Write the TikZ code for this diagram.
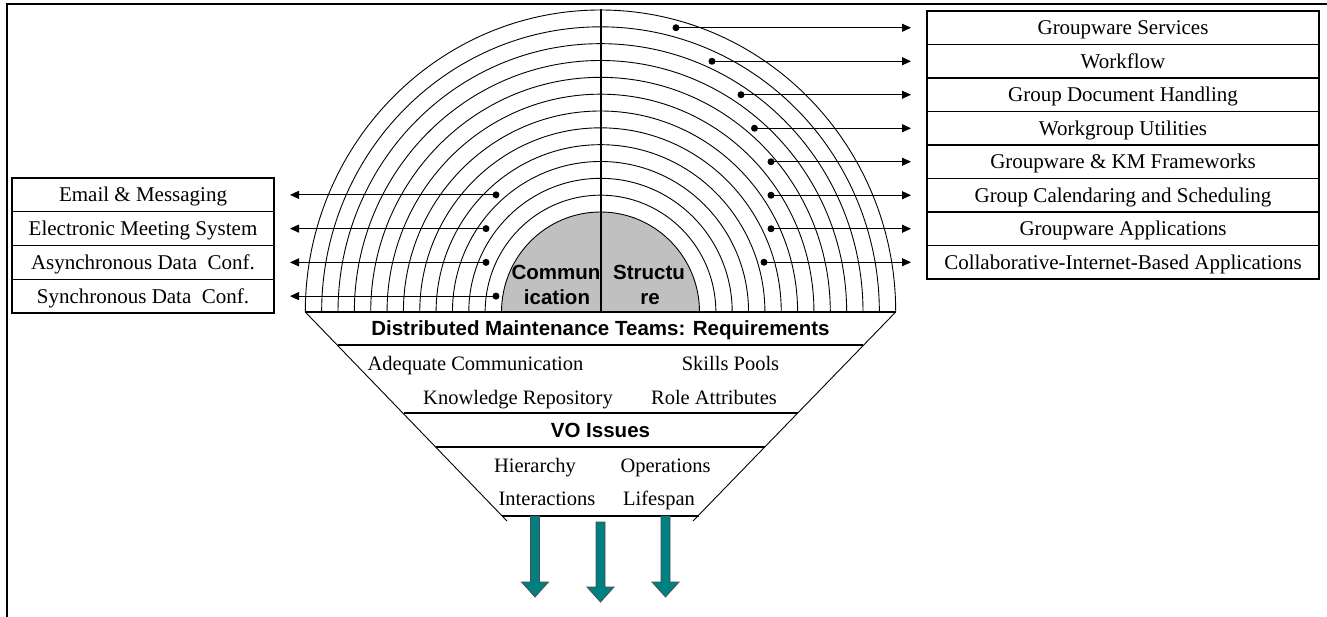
\documentclass[tikz,border=0pt]{standalone}
\usepackage{fontspec}
\setmainfont{Liberation Serif}
\newfontfamily\headfamily{Liberation Sans}
\usetikzlibrary{arrows.meta}
\definecolor{coregray}{RGB}{192,192,192}
\definecolor{stemteal}{RGB}{0,128,128}
\newcommand{\rowfont}{\fontsize{21}{24}\selectfont}
\newcommand{\bandfont}{\fontsize{20.5}{24}\selectfont}
\newcommand{\headfont}{\headfamily\bfseries\fontsize{20.5}{24}\selectfont}

\begin{document}
\begin{tikzpicture}[x=1pt,y=1pt,
  every node/.style={inner sep=0pt,outer sep=0pt},
  rowbox/.style={draw,line width=1.1pt,minimum height=33.5pt,text height=13.9pt,text depth=0pt,font=\rowfont},
  rightrow/.style={rowbox,minimum width=392pt},
  leftrow/.style={rowbox,minimum width=262pt,minimum height=33.75pt},
  bandtxt/.style={text height=13.6pt,text depth=0pt,font=\bandfont},
  headtxt/.style={text height=14.7pt,text depth=0pt,font=\headfont},
  ring/.style={line width=.9pt},
  heavy/.style={line width=2.5pt},
  feed/.style={line width=.9pt,-{Triangle[length=9pt,width=8pt]}},
  stem/.style={fill=stemteal,draw=black!70,line width=.8pt}]
\useasboundingbox (0,0) rectangle (1327,-617);
\draw[heavy] (7,-617)--(7,-4)--(1327,-4);
\fill[coregray] (501.5,-312) arc[start angle=180,end angle=0,x radius=99pt,y radius=100pt]--cycle;
\draw[ring] (501.5,-312) arc[start angle=180,end angle=0,x radius=99pt,y radius=100pt];
\draw[ring] (485.15,-312) arc[start angle=180,end angle=0,x radius=115.35pt,y radius=116.83pt];
\draw[ring] (468.8,-312) arc[start angle=180,end angle=0,x radius=131.7pt,y radius=133.67pt];
\draw[ring] (452.45,-312) arc[start angle=180,end angle=0,x radius=148.05pt,y radius=150.5pt];
\draw[ring] (436.1,-312) arc[start angle=180,end angle=0,x radius=164.4pt,y radius=167.33pt];
\draw[ring] (419.75,-312) arc[start angle=180,end angle=0,x radius=180.75pt,y radius=184.17pt];
\draw[ring] (403.4,-312) arc[start angle=180,end angle=0,x radius=197.1pt,y radius=201pt];
\draw[ring] (387.05,-312) arc[start angle=180,end angle=0,x radius=213.45pt,y radius=217.83pt];
\draw[ring] (370.7,-312) arc[start angle=180,end angle=0,x radius=229.8pt,y radius=234.67pt];
\draw[ring] (354.35,-312) arc[start angle=180,end angle=0,x radius=246.15pt,y radius=251.5pt];
\draw[ring] (338,-312) arc[start angle=180,end angle=0,x radius=262.5pt,y radius=268.33pt];
\draw[ring] (321.65,-312) arc[start angle=180,end angle=0,x radius=278.85pt,y radius=285.17pt];
\draw[ring] (305.3,-312) arc[start angle=180,end angle=0,x radius=295.2pt,y radius=302pt];
\node[headtxt] (comm1) at (556,-272) {Commun};
\node[headtxt] (comm2) at (557,-297) {ication};
\node[headtxt] (struc1) at (649,-272) {Structu};
\node[headtxt] (struc2) at (650,-297) {re};
\draw[line width=2pt] (600.5,-9)--(600.5,-312);
\draw[heavy] (305.3,-312)--(895.7,-312);
\draw[ring] (305.3,-312)--(507,-521);
\draw[ring] (895.7,-312)--(693,-521);
\draw[heavy] (338,-345)--(863,-345);
\draw[heavy] (404,-413)--(798,-413);
\draw[heavy] (436,-447)--(765,-447);
\draw[heavy] (502,-516)--(699,-516);
\node[headtxt] (dmt) at (600.5,-328.5) {Distributed Maintenance Teams: Requirements};
\node[bandtxt] (adq) at (475.5,-363.5) {Adequate Communication};
\node[bandtxt] (skl) at (730.5,-363.5) {Skills Pools};
\node[bandtxt] (knw) at (518,-397.5) {Knowledge Repository};
\node[bandtxt] (rol) at (714,-397.5) {Role Attributes};
\node[headtxt] (vo) at (600.5,-430) {VO Issues};
\node[bandtxt] (hie) at (535,-465.5) {Hierarchy};
\node[bandtxt] (ope) at (665.5,-465.5) {Operations};
\node[bandtxt] (int) at (547,-499) {Interactions};
\node[bandtxt] (lif) at (659,-499) {Lifespan};
\coordinate (out1) at (535,-516);
\coordinate (out2) at (600.5,-522);
\coordinate (out3) at (665.5,-516);
\draw[stem] (out1) ++(-4.5,0) -- ++(9,0) -- ++(0,-66) -- ++(9,0) -- ++(-13.5,-15) -- ++(-13.5,15) -- ++(9,0) -- cycle;
\draw[stem] (out2) ++(-4.5,0) -- ++(9,0) -- ++(0,-65) -- ++(9,0) -- ++(-13.5,-15) -- ++(-13.5,15) -- ++(9,0) -- cycle;
\draw[stem] (out3) ++(-4.5,0) -- ++(9,0) -- ++(0,-66) -- ++(9,0) -- ++(-13.5,-15) -- ++(-13.5,15) -- ++(9,0) -- cycle;
\node[rightrow] (gs) at (1123,-27.75) {Groupware Services};
\node[rightrow] (wf) at (1123,-61.25) {Workflow};
\node[rightrow] (gdh) at (1123,-94.75) {Group Document Handling};
\node[rightrow] (wu) at (1123,-128.25) {Workgroup Utilities};
\node[rightrow] (km) at (1123,-161.75) {Groupware \& KM Frameworks};
\node[rightrow] (gcs) at (1123,-195.25) {Group Calendaring and Scheduling};
\node[rightrow] (ga) at (1123,-228.75) {Groupware Applications};
\node[rightrow] (cib) at (1123,-262.25) {Collaborative-Internet-Based Applications};
\node[leftrow] (em) at (143,-194.875) {Email \& Messaging};
\node[leftrow] (ems) at (143,-228.625) {Electronic Meeting System};
\node[leftrow] (adc) at (143,-262.375) {Asynchronous Data\ \ Conf.};
\node[leftrow] (sdc) at (143,-296.125) {Synchronous Data\ \ Conf.};
\coordinate (r1) at (676,-27.75);
\coordinate (r2) at (712,-61.25);
\coordinate (r3) at (741,-94.75);
\coordinate (r4) at (754.5,-128.25);
\coordinate (r5) at (771,-161.75);
\coordinate (r6) at (771,-195.25);
\coordinate (r7) at (771,-228.75);
\coordinate (r8) at (764,-262.25);
\coordinate (l1) at (496,-194.875);
\coordinate (l2) at (486,-228.625);
\coordinate (l3) at (486,-262.375);
\coordinate (l4) at (496,-296.125);
\fill (r1) circle[radius=3.5pt];\draw[feed] (r1)--([xshift=-16pt]gs.west);
\fill (r2) circle[radius=3.5pt];\draw[feed] (r2)--([xshift=-16pt]wf.west);
\fill (r3) circle[radius=3.5pt];\draw[feed] (r3)--([xshift=-16pt]gdh.west);
\fill (r4) circle[radius=3.5pt];\draw[feed] (r4)--([xshift=-16pt]wu.west);
\fill (r5) circle[radius=3.5pt];\draw[feed] (r5)--([xshift=-16pt]km.west);
\fill (r6) circle[radius=3.5pt];\draw[feed] (r6)--([xshift=-16pt]gcs.west);
\fill (r7) circle[radius=3.5pt];\draw[feed] (r7)--([xshift=-16pt]ga.west);
\fill (r8) circle[radius=3.5pt];\draw[feed] (r8)--([xshift=-16pt]cib.west);
\fill (l1) circle[radius=3.5pt];\draw[feed] (l1)--([xshift=16pt]em.east);
\fill (l2) circle[radius=3.5pt];\draw[feed] (l2)--([xshift=16pt]ems.east);
\fill (l3) circle[radius=3.5pt];\draw[feed] (l3)--([xshift=16pt]adc.east);
\fill (l4) circle[radius=3.5pt];\draw[feed] (l4)--([xshift=16pt]sdc.east);
\end{tikzpicture}
\end{document}
